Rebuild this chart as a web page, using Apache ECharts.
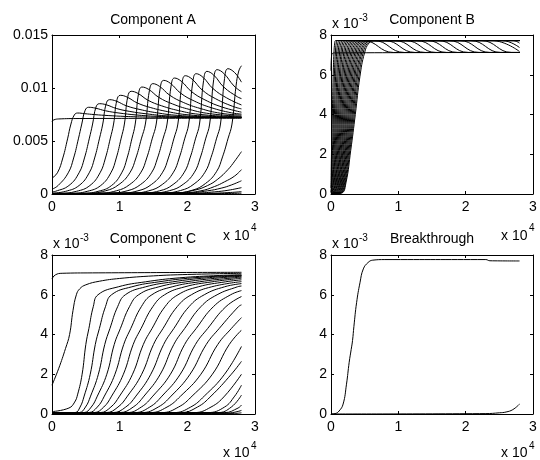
<!DOCTYPE html>
<html><head><meta charset="utf-8">
<script src="https://cdn.jsdelivr.net/npm/echarts@6/dist/echarts.min.js"></script>
<style>html,body{margin:0;padding:0;background:#fff}#c{width:540px;height:460px}</style>
</head><body><div id="c"></div>
<script>
// ---- tick labels & titles ----
const xTickLabels = ['0', '1', '2', '3'];          // x in units of 1e4
const yTickLabelsA = ['0', '0.005', '0.01', '0.015'];
const yTickLabels = ['0', '2', '4', '6', '8'];      // y in units of 1e-3
const titles = ['Component A', 'Component B', 'Component C', 'Breakthrough'];

// ---- data: each curve is a list of [x (x1e4), y (x1e-3)] ----
const compA = [
  [[0,6.85],[0.03,7.0],[0.1,7.08],[0.4,7.12],[2.8,7.15]],
  [[0,1.5],[0.08,2.0],[0.16,3.4],[0.23,5.2],[0.28,6.6],[0.33,7.46],[0.38,7.64],[0.48,7.58],[0.63,7.49],[0.83,7.4],[1.08,7.32],[1.38,7.26],[1.88,7.22],[2.8,7.2]],
  [[0,0.45],[0.09,0.8],[0.24,2.0],[0.32,3.4],[0.39,5.2],[0.44,6.6],[0.49,7.9],[0.54,8.18],[0.64,8.1],[0.79,7.85],[0.99,7.64],[1.24,7.46],[1.54,7.33],[2.04,7.24],[2.54,7.21],[2.8,7.2]],
  [[0,0.2],[0.05,0.25],[0.25,0.8],[0.40,2.0],[0.48,3.4],[0.55,5.2],[0.60,6.6],[0.65,8.2],[0.70,8.52],[0.80,8.42],[0.95,8.07],[1.15,7.79],[1.40,7.56],[1.70,7.37],[2.20,7.25],[2.70,7.21],[2.8,7.21]],
  [[0,0.08],[0.2,0.25],[0.4,0.8],[0.55,2.0],[0.63,3.4],[0.70,5.2],[0.75,6.6],[0.80,8.5],[0.85,8.9],[0.95,8.76],[1.10,8.32],[1.30,7.97],[1.55,7.66],[1.85,7.42],[2.35,7.27],[2.8,7.22]],
  [[0,0.03],[0.11,0.05],[0.36,0.25],[0.56,0.8],[0.71,2.0],[0.79,3.4],[0.86,5.2],[0.91,6.6],[0.96,8.89],[1.01,9.31],[1.11,9.14],[1.26,8.59],[1.46,8.15],[1.71,7.77],[2.01,7.47],[2.51,7.28],[2.8,7.24]],
  [[0,0.03],[0.27,0.05],[0.52,0.25],[0.72,0.8],[0.87,2.0],[0.95,3.4],[1.02,5.2],[1.07,6.6],[1.12,9.19],[1.17,9.69],[1.27,9.49],[1.42,8.84],[1.62,8.32],[1.87,7.87],[2.17,7.52],[2.67,7.30],[2.8,7.28]],
  [[0,0.03],[0.43,0.05],[0.68,0.25],[0.88,0.8],[1.03,2.0],[1.11,3.4],[1.18,5.2],[1.23,6.6],[1.28,9.51],[1.33,10.09],[1.43,9.86],[1.58,9.11],[1.78,8.5],[2.03,7.98],[2.33,7.58],[2.8,7.33]],
  [[0,0.03],[0.49,0.05],[0.79,0.3],[0.99,0.9],[1.15,2.0],[1.24,3.4],[1.32,5.2],[1.38,6.6],[1.44,9.77],[1.49,10.41],[1.59,10.15],[1.74,9.32],[1.94,8.64],[2.19,8.07],[2.49,7.62],[2.8,7.44]],
  [[0,0.03],[0.65,0.05],[0.95,0.3],[1.15,0.9],[1.31,2.0],[1.40,3.4],[1.48,5.2],[1.54,6.6],[1.60,10.02],[1.65,10.72],[1.75,10.44],[1.90,9.52],[2.10,8.78],[2.35,8.15],[2.65,7.66],[2.8,7.54]],
  [[0,0.03],[0.81,0.06],[1.11,0.3],[1.31,0.9],[1.47,2.0],[1.56,3.4],[1.64,5.2],[1.70,6.6],[1.76,10.19],[1.81,10.94],[1.91,10.64],[2.06,9.67],[2.26,8.88],[2.51,8.21],[2.8,7.72]],
  [[0,0.04],[0.97,0.06],[1.27,0.3],[1.47,0.9],[1.63,2.0],[1.72,3.4],[1.80,5.2],[1.86,6.6],[1.92,10.37],[1.97,11.16],[2.07,10.84],[2.22,9.81],[2.42,8.98],[2.67,8.27],[2.8,8.03]],
  [[0,0.04],[1.13,0.06],[1.43,0.3],[1.63,0.9],[1.79,2.0],[1.88,3.4],[1.96,5.2],[2.02,6.6],[2.08,10.52],[2.13,11.35],[2.23,11.02],[2.38,9.94],[2.58,9.07],[2.8,8.4]],
  [[0,0.04],[1.29,0.07],[1.59,0.3],[1.79,0.9],[1.95,2.0],[2.04,3.4],[2.12,5.2],[2.18,6.6],[2.24,10.7],[2.29,11.57],[2.39,11.22],[2.54,10.08],[2.74,9.17],[2.8,9.0]],
  [[0,0.05],[1.44,0.08],[1.74,0.32],[1.94,0.92],[2.10,2.0],[2.19,3.4],[2.27,5.2],[2.33,6.6],[2.39,10.82],[2.44,11.73],[2.54,11.37],[2.69,10.19],[2.8,9.65]],
  [[0,0.05],[1.60,0.08],[1.90,0.33],[2.10,0.95],[2.26,2.05],[2.35,3.45],[2.43,5.2],[2.49,6.6],[2.55,10.9],[2.60,11.82],[2.70,11.45],[2.8,10.55]],
  [[0,0.05],[1.77,0.09],[2.07,0.35],[2.27,1.0],[2.43,2.1],[2.52,3.5],[2.60,5.2],[2.66,6.6],[2.72,10.2],[2.76,11.6],[2.8,12.1]],
  [[0,0.05],[1.8,0.1],[2.1,0.35],[2.3,0.8],[2.45,1.4],[2.6,2.3],[2.7,3.1],[2.8,4.0]],
  [[0,0.05],[1.9,0.1],[2.2,0.3],[2.4,0.7],[2.55,1.15],[2.7,1.7],[2.8,2.3]],
  [[0,0.04],[2.0,0.1],[2.3,0.3],[2.5,0.55],[2.65,0.85],[2.8,1.25]],
  [[0,0.04],[2.1,0.08],[2.4,0.2],[2.6,0.35],[2.8,0.6]],
  [[0,0.03],[2.3,0.07],[2.6,0.13],[2.8,0.22]],
  [[0,0.02],[2.5,0.04],[2.8,0.08]]
];

const compB = [
  [[0,6.2],[0.01,7.0],[0.05,7.1],[2.8,7.12]],
  [[0,0.3],[0.008,2.2],[0.02,4.0],[0.032,5.9],[0.044,7.1],[0.056,7.6],[0.071,7.72],[0.48,7.72],[0.93,7.12],[2.8,7.12]],
  [[0,0.1],[0.007,0.6],[0.022,2.2],[0.036,4.0],[0.05,5.9],[0.065,7.1],[0.079,7.6],[0.097,7.72],[0.64,7.72],[1.09,7.12],[2.8,7.12]],
  [[0,0.05],[0.017,0.6],[0.034,2.2],[0.051,4.0],[0.068,5.9],[0.085,7.1],[0.103,7.6],[0.124,7.72],[0.80,7.72],[1.25,7.12],[2.8,7.12]],
  [[0,0.02],[0.008,0.05],[0.028,0.6],[0.047,2.2],[0.067,4.0],[0.087,5.9],[0.106,7.1],[0.126,7.6],[0.15,7.72],[0.95,7.72],[1.40,7.12],[2.8,7.12]],
  [[0,0.02],[0.015,0.05],[0.037,0.6],[0.06,2.2],[0.082,4.0],[0.104,5.9],[0.127,7.1],[0.149,7.6],[0.177,7.72],[1.11,7.72],[1.56,7.12],[2.8,7.12]],
  [[0,0.02],[0.024,0.05],[0.048,0.6],[0.073,2.2],[0.098,4.0],[0.123,5.9],[0.148,7.1],[0.172,7.6],[0.203,7.72],[1.27,7.72],[1.72,7.12],[2.8,7.12]],
  [[0,0.02],[0.031,0.05],[0.059,0.6],[0.086,2.2],[0.113,4.0],[0.14,5.9],[0.167,7.1],[0.195,7.6],[0.229,7.72],[1.43,7.72],[1.88,7.12],[2.8,7.12]],
  [[0,0.02],[0.039,0.05],[0.069,0.6],[0.099,2.2],[0.129,4.0],[0.159,5.9],[0.189,7.1],[0.219,7.6],[0.257,7.72],[1.59,7.72],[2.04,7.12],[2.8,7.12]],
  [[0,0.02],[0.047,0.05],[0.079,0.6],[0.112,2.2],[0.144,4.0],[0.176,5.9],[0.209,7.1],[0.241,7.6],[0.282,7.72],[1.75,7.72],[2.20,7.12],[2.8,7.12]],
  [[0,0.02],[0.054,0.05],[0.09,0.6],[0.125,2.2],[0.16,4.0],[0.195,5.9],[0.23,7.1],[0.266,7.6],[0.31,7.72],[1.91,7.72],[2.36,7.12],[2.8,7.12]],
  [[0,0.02],[0.062,0.05],[0.1,0.6],[0.137,2.2],[0.175,4.0],[0.213,5.9],[0.25,7.1],[0.288,7.6],[0.335,7.72],[2.07,7.72],[2.52,7.12],[2.8,7.12]],
  [[0,0.02],[0.071,0.05],[0.111,0.6],[0.151,2.2],[0.191,4.0],[0.231,5.9],[0.271,7.1],[0.311,7.6],[0.361,7.72],[2.23,7.72],[2.68,7.12],[2.8,7.12]],
  [[0,0.02],[0.078,0.05],[0.12,0.6],[0.163,2.2],[0.206,4.0],[0.249,5.9],[0.292,7.1],[0.334,7.6],[0.388,7.72],[2.39,7.72],[2.8,7.17]],
  [[0,0.02],[0.086,0.05],[0.132,0.6],[0.177,2.2],[0.222,4.0],[0.267,5.9],[0.312,7.1],[0.358,7.6],[0.414,7.72],[2.54,7.72],[2.8,7.37]],
  [[0,0.02],[0.093,0.05],[0.141,0.6],[0.189,2.2],[0.237,4.0],[0.285,5.9],[0.333,7.1],[0.381,7.6],[0.441,7.72],[2.70,7.72],[2.8,7.59]],
  [[0,0.02],[0.102,0.05],[0.152,0.6],[0.203,2.2],[0.253,4.0],[0.303,5.9],[0.354,7.1],[0.404,7.6],[0.467,7.72],[2.8,7.72]],
  [[0,0.02],[0.11,0.05],[0.162,0.6],[0.215,2.2],[0.268,4.0],[0.321,5.9],[0.374,7.1],[0.426,7.6],[0.492,7.72],[2.8,7.72]],
  [[0,0.02],[0.117,0.05],[0.173,0.6],[0.228,2.2],[0.284,4.0],[0.34,5.9],[0.395,7.1],[0.451,7.6],[0.52,7.72],[2.8,7.72]],
  [[0,0.02],[0.125,0.05],[0.183,0.6],[0.241,2.2],[0.299,4.0],[0.357,5.9],[0.415,7.1],[0.473,7.6],[0.546,7.72],[2.8,7.72]],
  [[0,0.02],[0.133,0.05],[0.193,0.6],[0.254,2.2],[0.315,4.0],[0.376,5.9],[0.437,7.1],[0.497,7.6],[0.573,7.72],[2.8,7.72]],
  [[0,0.02],[0.14,0.05],[0.204,0.6],[0.267,2.2],[0.33,4.0],[0.393,5.9],[0.456,7.1],[0.52,7.6],[0.599,7.72],[2.8,7.72]],
  [[0,0.02],[0.149,0.05],[0.215,0.6],[0.28,2.2],[0.346,4.0],[0.412,5.9],[0.477,7.1],[0.543,7.6],[0.625,7.72],[2.8,7.72]],
  [[0,0.02],[0.156,0.05],[0.224,0.6],[0.293,2.2],[0.361,4.0],[0.429,5.9],[0.498,7.1],[0.566,7.6],[0.652,7.72],[2.8,7.72]]
];

const compC = [
  [[0,6.8],[0.05,7.0],[0.15,7.08],[0.6,7.1],[2.8,7.13]],
  [[0,1.45],[0.1,2.3],[0.2,3.3],[0.26,4.0],[0.31,5.2],[0.36,6.0],[0.41,6.3],[0.5,6.5],[0.7,6.68],[1.0,6.82],[1.5,6.95],[2.0,7.02],[2.8,7.08]],
  [[0,0.12],[0.25,0.3],[0.335,0.6],[0.38,1.0],[0.445,2.0],[0.5,3.5],[0.545,4.3],[0.61,5.4],[0.68,6.0],[0.98,6.4],[1.38,6.65],[1.88,6.85],[2.48,6.97],[2.8,7.0]],
  [[0,0.03],[0.34,0.07],[0.415,0.35],[0.475,0.9],[0.565,2.0],[0.64,3.5],[0.7,4.3],[0.79,5.4],[0.88,6.0],[1.18,6.4],[1.58,6.65],[2.08,6.85],[2.68,6.97],[2.8,6.98]],
  [[0,0.03],[0.4,0.07],[0.495,0.35],[0.57,0.9],[0.685,2.0],[0.78,3.5],[0.856,4.3],[0.97,5.4],[1.084,6.0],[1.384,6.4],[1.784,6.65],[2.284,6.85],[2.8,6.96]],
  [[0,0.03],[0.47,0.07],[0.58,0.35],[0.67,0.9],[0.81,2.0],[0.92,3.5],[1.01,4.3],[1.145,5.4],[1.28,6.0],[1.58,6.4],[1.98,6.65],[2.48,6.85],[2.8,6.93]],
  [[0,0.03],[0.54,0.07],[0.67,0.35],[0.774,0.9],[0.93,2.0],[1.06,3.5],[1.164,4.3],[1.32,5.4],[1.476,6.0],[1.776,6.4],[2.176,6.65],[2.676,6.85],[2.8,6.88]],
  [[0,0.03],[0.62,0.07],[0.765,0.35],[0.881,0.9],[1.055,2.0],[1.2,3.5],[1.316,4.3],[1.49,5.4],[1.664,6.0],[1.964,6.4],[2.364,6.65],[2.8,6.83]],
  [[0,0.03],[0.71,0.07],[0.87,0.35],[0.998,0.9],[1.19,2.0],[1.35,3.5],[1.478,4.3],[1.67,5.4],[1.862,6.0],[2.162,6.4],[2.562,6.65],[2.8,6.75]],
  [[0,0.03],[0.8,0.07],[0.975,0.35],[1.115,0.9],[1.325,2.0],[1.5,3.5],[1.64,4.3],[1.85,5.4],[2.06,6.0],[2.36,6.4],[2.8,6.66]],
  [[0,0.03],[0.9,0.07],[1.09,0.35],[1.24,0.9],[1.46,2.0],[1.65,3.5],[1.8,4.3],[2.025,5.4],[2.25,6.0],[2.55,6.4],[2.8,6.56]],
  [[0,0.03],[1.0,0.07],[1.2,0.35],[1.36,0.9],[1.6,2.0],[1.8,3.5],[1.96,4.3],[2.2,5.4],[2.44,6.0],[2.74,6.4],[2.8,6.44]],
  [[0,0.04],[1.11,0.07],[1.32,0.35],[1.49,0.9],[1.75,2.0],[1.96,3.5],[2.13,4.3],[2.385,5.4],[2.64,6.0],[2.8,6.21]],
  [[0,0.04],[1.22,0.07],[1.445,0.35],[1.625,0.9],[1.895,2.0],[2.12,3.5],[2.3,4.3],[2.57,5.4],[2.8,5.91]],
  [[0,0.04],[1.33,0.07],[1.57,0.35],[1.76,0.9],[2.04,2.0],[2.28,3.5],[2.47,4.3],[2.755,5.4],[2.8,5.49]],
  [[0,0.04],[1.45,0.07],[1.7,0.35],[1.9,0.9],[2.2,2.0],[2.45,3.5],[2.65,4.3],[2.8,4.85]],
  [[0,0.04],[1.62,0.07],[1.87,0.35],[2.07,0.9],[2.37,2.0],[2.62,3.5],[2.8,4.22]],
  [[0,0.04],[1.8,0.07],[2.05,0.35],[2.25,0.9],[2.55,2.0],[2.8,3.4]],
  [[0,0.04],[1.9,0.07],[2.15,0.35],[2.35,0.9],[2.65,2.0],[2.8,2.65]],
  [[0,0.03],[2.1,0.07],[2.35,0.35],[2.55,0.9],[2.8,2.0]],
  [[0,0.03],[2.3,0.07],[2.55,0.35],[2.7,0.9],[2.8,1.45]],
  [[0,0.03],[2.45,0.07],[2.65,0.35],[2.8,0.95]],
  [[0,0.03],[2.55,0.07],[2.75,0.3],[2.8,0.45]],
  [[0,0.02],[2.6,0.05],[2.8,0.18]],
  [[0,0.02],[2.7,0.03],[2.8,0.06]]
];

const breakthrough = [
  [[0,0],[0.06,0.02],[0.12,0.15],[0.18,0.5],[0.23,1.5],[0.27,2.6],[0.3,3.25],[0.32,3.7],[0.34,4.4],[0.38,5.6],[0.43,6.6],[0.48,7.3],[0.55,7.62],[0.62,7.74],[0.8,7.77],[2.3,7.77],[2.36,7.71],[2.8,7.7]],
  [[0,0],[2.3,0.02],[2.5,0.06],[2.6,0.1],[2.7,0.22],[2.8,0.5]]
];

// ---- layout ----
const FONT = '"Liberation Sans", Arial, Helvetica, sans-serif';
const grids = [
  {left: 52, top: 35, width: 203, height: 159},
  {left: 331, top: 35, width: 202, height: 159},
  {left: 52, top: 255, width: 203, height: 159},
  {left: 331, top: 255, width: 202, height: 159}
];
const panelData = [compA, compB, compC, breakthrough];
const yMax = [15, 8, 8, 8];
const yInt = [5, 2, 2, 2];
const yLabs = [yTickLabelsA, yTickLabels, yTickLabels, yTickLabels];

const xAxes = [], yAxes = [], series = [];
grids.forEach((g, i) => {
  const tick = {show: true, inside: true, length: 3, lineStyle: {color: '#000', width: 1}};
  const line = {show: true, onZero: false, lineStyle: {color: '#000', width: 1}};
  const lab = {color: '#000', fontSize: 14, fontFamily: FONT};
  xAxes.push({gridIndex: i, type: 'value', min: 0, max: 3, interval: 1, position: 'bottom',
    axisLine: line, axisTick: tick, splitLine: {show: false},
    axisLabel: Object.assign({margin: 6, formatter: v => xTickLabels[Math.round(v)]}, lab)});
  xAxes.push({gridIndex: i, type: 'value', min: 0, max: 3, interval: 1, position: 'top',
    axisLine: line, axisTick: tick, splitLine: {show: false}, axisLabel: {show: false}});
  yAxes.push({gridIndex: i, type: 'value', min: 0, max: yMax[i], interval: yInt[i], position: 'left',
    axisLine: line, axisTick: tick, splitLine: {show: false},
    axisLabel: Object.assign({margin: 4, formatter: v => yLabs[i][Math.round(v / yInt[i])]}, lab)});
  yAxes.push({gridIndex: i, type: 'value', min: 0, max: yMax[i], interval: yInt[i], position: 'right',
    axisLine: line, axisTick: tick, splitLine: {show: false}, axisLabel: {show: false}});
  panelData[i].forEach(curve => series.push({
    type: 'line', xAxisIndex: 2 * i, yAxisIndex: 2 * i, data: curve,
    symbol: 'none', showSymbol: false, smooth: 0.45, silent: true,
    lineStyle: {color: '#000', width: 1}
  }));
});

function txt(x, y, text, size, align) {
  return {type: 'text', x: x, y: y, silent: true,
    style: {text: text, fill: '#000', fontSize: size, fontFamily: FONT,
      textAlign: align || 'left', align: align || 'left',
      textVerticalAlign: 'middle', verticalAlign: 'middle'}};
}
const graphics = [
  txt(153, 20, titles[0], 14, 'center'),
  txt(432, 20, titles[1], 14, 'center'),
  txt(153, 239.5, titles[2], 14, 'center'),
  txt(432, 239.5, titles[3], 14, 'center'),
  // y exponents
  txt(332, 24.5, 'x 10', 14), txt(359, 18.5, '-3', 10),
  txt(53, 244.5, 'x 10', 14), txt(80, 238.5, '-3', 10),
  txt(332, 244.5, 'x 10', 14), txt(359, 238.5, '-3', 10),
  // x exponents
  txt(223, 236, 'x 10', 14), txt(251, 228, '4', 10),
  txt(501, 236, 'x 10', 14), txt(529, 228, '4', 10),
  txt(223, 453, 'x 10', 14), txt(251, 446, '4', 10),
  txt(501, 453, 'x 10', 14), txt(529, 446, '4', 10)
];

const chart = echarts.init(document.getElementById('c'), null, {renderer: 'canvas'});
chart.setOption({
  backgroundColor: '#fff',
  animation: false,
  grid: grids,
  xAxis: xAxes,
  yAxis: yAxes,
  series: series,
  graphic: graphics
});
</script>
</body></html>
